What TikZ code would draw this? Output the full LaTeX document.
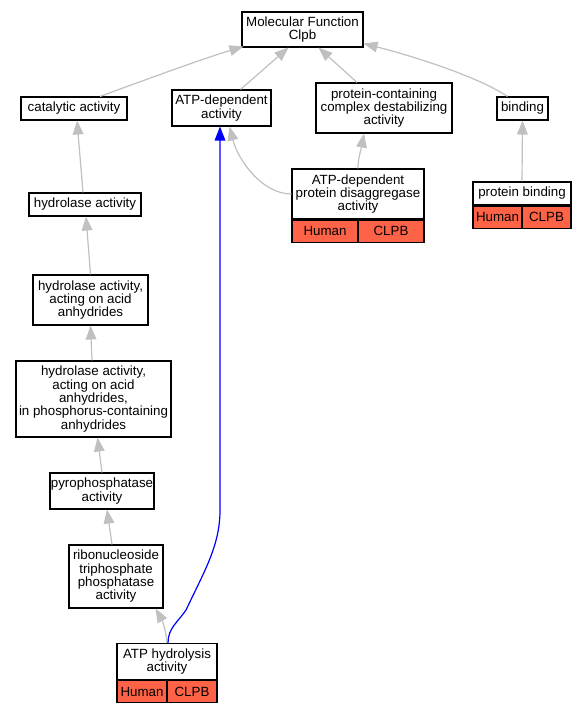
\documentclass[tikz,border=0pt]{standalone}
\usepackage{fontspec}
\setmainfont{Liberation Sans}
\usepackage{xcolor}
\usetikzlibrary{arrows.meta,calc}
\definecolor{tomato}{HTML}{FF6347}
\definecolor{edgegray}{HTML}{C0C0C0}

\begin{document}
\begin{tikzpicture}[x=0.75pt,y=-0.75pt,
        term/.style={draw=black, fill=white, line width=0.8pt, inner sep=0pt, align=center,
            font=\fontsize{10}{10}\selectfont},
        tag/.style={draw=black, fill=tomato, line width=0.8pt, inner sep=0pt,
            minimum height=16.5pt, font=\fontsize{10}{10}\selectfont},
        isa/.style={draw=edgegray, line width=0.9pt, -{Triangle[length=10.5pt,width=8pt]}},
        hit/.style={draw=blue, line width=0.9pt, -{Triangle[length=10.5pt,width=8pt]}}]
        \useasboundingbox (0,0) rectangle (585,712);

        % GO terms
        \node[term, minimum width=90.75pt, minimum height=26.25pt] (mf) at (302.5,29.5) {Molecular Function\\Clpb};
        \node[term, minimum width=79.5pt, minimum height=17.25pt] (cat) at (74,108.5) {catalytic activity};
        \node[term, minimum width=74.25pt, minimum height=27pt] (atpdep) at (221.5,108) {ATP-dependent\\activity};
        \node[term, minimum width=102pt, minimum height=37.5pt] (pcc) at (384,108) {protein-containing\\complex destabilizing\\activity};
        \node[term, minimum width=38.25pt, minimum height=17.25pt] (bind) at (522.5,108.5) {binding};
        \node[term, minimum width=99pt, minimum height=37.5pt] (disagg) at (358,194) {ATP-dependent\\protein disaggregase\\activity};
        \node[term, minimum width=73.5pt, minimum height=17.25pt] (pbind) at (522,193.5) {protein binding};
        \node[term, minimum width=84pt, minimum height=17.25pt] (hyd) at (85,204.5) {hydrolase activity};
        \node[term, minimum width=86.25pt, minimum height=37.5pt] (hydacid) at (90.5,300) {hydrolase activity,\\acting on acid\\anhydrides};
        \node[term, minimum width=116.25pt, minimum height=57pt] (hydphos) at (93.5,399) {hydrolase activity,\\acting on acid\\anhydrides,\\in phosphorus-containing\\anhydrides};
        \node[term, minimum width=78pt, minimum height=27pt] (pyro) at (102,491) {pyrophosphatase\\activity};
        \node[term, minimum width=70.5pt, minimum height=47.25pt] (ribo) at (116,576.5) {ribonucleoside\\triphosphate\\phosphatase\\activity};
        \node[term, minimum width=75pt, minimum height=27pt] (atphyd) at (167,661.5) {ATP hydrolysis\\activity};

        % annotation rows
        \node[tag, minimum width=49.5pt, anchor=north west] (disaggH) at (disagg.south west) {Human};
        \node[tag, minimum width=49.5pt, anchor=north east] (disaggC) at (disagg.south east) {CLPB};
        \node[tag, minimum width=36.75pt, anchor=north west] (pbindH) at (pbind.south west) {Human};
        \node[tag, minimum width=36.75pt, anchor=north east] (pbindC) at (pbind.south east) {CLPB};
        \node[tag, minimum width=37.5pt, anchor=north west] (atphydH) at (atphyd.south west) {Human};
        \node[tag, minimum width=37.5pt, anchor=north east] (atphydC) at (atphyd.south east) {CLPB};

        % is-a edges
        \draw[isa] ($(cat.north)+(26,0)$) .. controls (150,78) and (205,58) .. ($(mf.south west)+(2,-1)$);
        \draw[isa] ($(atpdep.north)+(19,0)$) -- ($(mf.south)+(-14,0)$);
        \draw[isa] ($(pcc.north)+(-27,0)$) -- ($(mf.south)+(16,0)$);
        \draw[isa] ($(bind.north)+(-15,0)$) .. controls (480,78) and (420,58) .. ($(mf.east)+(0,14)$);
        \draw[isa] ($(hyd.north)+(-2,0)$) -- ($(cat.south)+(3,0)$);
        \draw[isa] (hydacid.north) -- ($(hyd.south)+(1,0)$);
        \draw[isa] ($(hydphos.north)+(-1.5,0)$) -- (hydacid.south);
        \draw[isa] (pyro.north) -- ($(hydphos.south)+(4,0)$);
        \draw[isa] ($(ribo.north)+(-4,0)$) -- ($(pyro.south)+(5,0)$);
        \draw[isa] (atphyd.north) .. controls (166,630) and (162,620) .. ($(ribo.south east)+(-8,0)$);
        \draw[isa] (disagg.west) .. controls (262,194) and (238,160) .. ($(atpdep.south)+(8,0)$);
        \draw[isa] (disagg.north) .. controls (358,158) and (361,150) .. ($(pcc.south)+(-20,0)$);
        \draw[isa] (pbind.north) -- (bind.south);

        % direct annotation path
        \draw[hit] ($(atphyd.north)+(1,0)$) .. controls (168,628) and (178,622) .. (186,610)
            .. controls (205,570) and (220,545) .. (220,510) -- ($(atpdep.south)+(-1.5,0)$);
\end{tikzpicture}
\end{document}
